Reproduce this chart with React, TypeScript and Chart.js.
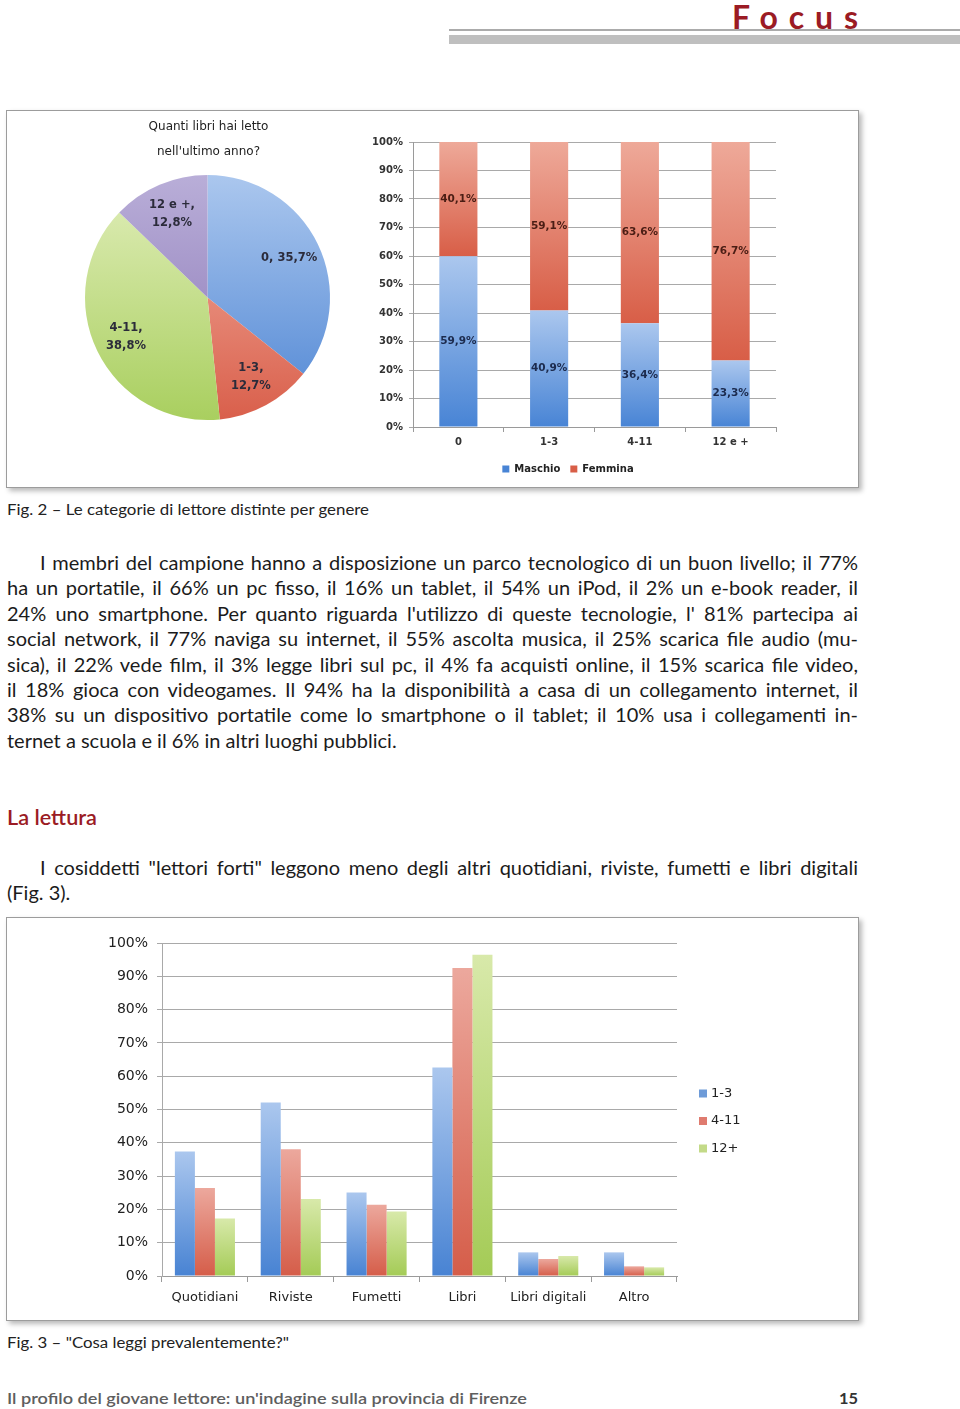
import React, { useEffect, useLayoutEffect, useRef } from 'react';
import { Chart, registerables } from 'chart.js';

Chart.register(...registerables);

// ---------------- DATA ----------------
const pieTitle = ['Quanti libri hai letto', "nell'ultimo anno?"];
const pieCategories = ['0', '1-3', '4-11', '12 e +'];
const pieValues = [35.7, 12.7, 38.8, 12.8];

const genderCategories = ['0', '1-3', '4-11', '12 e +'];
const genderSeries = ['Maschio', 'Femmina'];
const maschioValues = [59.9, 40.9, 36.4, 23.3];
const femminaValues = [40.1, 59.1, 63.6, 76.7];

const readCategories = ['Quotidiani', 'Riviste', 'Fumetti', 'Libri', 'Libri digitali', 'Altro'];
const readSeries = ['1-3', '4-11', '12+'];
const read13 = [37.4, 52.1, 25.1, 62.6, 7.1, 7.1];
const read411 = [26.4, 38.1, 21.4, 92.5, 5.1, 2.9];
const read12 = [17.3, 23.1, 19.4, 96.5, 6.0, 2.6];

const percentMin = 0;
const percentMax = 100;
const percentStep = 10;

const headerText = 'Focus';
const fig2Caption = 'Fig. 2 \u2013 Le categorie di lettore distinte per genere';
const para1 = [
  'I membri del campione hanno a disposizione un parco tecnologico di un buon livello; il 77%',
  'ha un portatile, il 66% un pc fisso, il 16% un tablet, il 54% un iPod, il 2% un e-book reader, il',
  "24% uno smartphone. Per quanto riguarda l'utilizzo di queste tecnologie, l' 81% partecipa ai",
  'social network, il 77% naviga su internet, il 55% ascolta musica, il 25% scarica file audio (mu-',
  'sica), il 22% vede film, il 3% legge libri sul pc, il 4% fa acquisti online, il 15% scarica file video,',
  'il 18% gioca con videogames. Il 94% ha la disponibilit\u00e0 a casa di un collegamento internet, il',
  '38% su un dispositivo portatile come lo smartphone o il tablet; il 10% usa i collegamenti in-',
  'ternet a scuola e il 6% in altri luoghi pubblici.',
];
const sectionTitle = 'La lettura';
const para2 = [
  'I cosiddetti "lettori forti" leggono meno degli altri quotidiani, riviste, fumetti e libri digitali',
  '(Fig. 3).',
];
const fig3Caption = 'Fig. 3 \u2013 "Cosa leggi prevalentemente?"';
const footerText = "Il profilo del giovane lettore: un'indagine sulla provincia di Firenze";
const pageNumber = '15';

// ---------------- STYLE ----------------
const TEXT_FONT = 'Lato, "Noto Sans", sans-serif';
const CHART_FONT = '"DejaVu Sans", Verdana, sans-serif';

const pieGrad = [
  ['#abc7ee', '#4f86d4'],
  ['#f4b3a4', '#d95f4b'],
  ['#e1eebb', '#a9cf5f'],
  ['#b9aed8', '#8a76b6'],
];
const genderGrad = [
  ['#abc7ee', '#4884d5'],
  ['#eea999', '#d85e47'],
];
const genderLabelColors = ['#1c2b4e', '#4a1d14'];
const readGrad = [
  ['#abc7ee', '#4883d3'],
  ['#eca89d', '#d55d49'],
  ['#d8e9aa', '#a4cb56'],
];
const readLegendColors = ['#6e9bd8', '#df7b6f', '#c3da88'];

const fmtPct = (v: number) => v.toFixed(1).replace('.', ',') + '%';

function vGrad(ctx: CanvasRenderingContext2D, top: number, bottom: number, c: string[]) {
  const g = ctx.createLinearGradient(0, top, 0, bottom);
  g.addColorStop(0, c[0]);
  g.addColorStop(1, c[1]);
  return g;
}

function barFill(grads: string[][], si: number, range: (i: number) => [number, number]) {
  return (c: any) => {
    const chart = c.chart;
    const y = chart.scales && chart.scales.y;
    if (!chart.chartArea || !y || c.dataIndex == null) return grads[si][1];
    const [lo, hi] = range(c.dataIndex);
    const top = y.getPixelForValue(hi);
    const bottom = y.getPixelForValue(lo);
    if (!isFinite(top) || !isFinite(bottom) || top === bottom) return grads[si][1];
    return vGrad(chart.ctx, top, bottom, grads[si]);
  };
}

// ---------------- TEXT ----------------
type Mode = 'justify' | 'fit' | 'letters' | 'none';
function Txt(props: {
  x: number; cy: number; w?: number; text: string; size: number; mode?: Mode;
  color?: string; weight?: number; family?: string;
}) {
  const { x, cy, w = 0, text, size, mode = 'none', color = '#1b1b1b', weight = 400, family = TEXT_FONT } = props;
  const ref = useRef<HTMLSpanElement>(null);
  useLayoutEffect(() => {
    const el = ref.current;
    if (!el) return;
    const apply = () => {
      el.style.wordSpacing = '0px';
      el.style.letterSpacing = '0px';
      el.style.transform = 'none';
      const nat = el.getBoundingClientRect().width;
      if (!w || !nat || mode === 'none') return;
      if (mode === 'justify') {
        const n = (text.match(/ /g) || []).length;
        if (nat < w && n > 0) el.style.wordSpacing = `${(w - nat) / n}px`;
        else if (nat > w) el.style.transform = `scaleX(${w / nat})`;
      } else if (mode === 'fit') {
        el.style.transform = `scaleX(${w / nat})`;
      } else if (mode === 'letters') {
        el.style.letterSpacing = `${(w - nat) / (text.length - 1)}px`;
      }
    };
    apply();
    if ((document as any).fonts && (document as any).fonts.ready) (document as any).fonts.ready.then(apply);
  }, [text, w, mode, size]);
  const lh = Math.round(size * 1.2);
  return (
    <span
      ref={ref}
      style={{
        position: 'absolute', left: x, top: cy - lh / 2, fontSize: size, lineHeight: `${lh}px`,
        whiteSpace: 'pre', color, fontWeight: weight, fontFamily: family,
        transformOrigin: '0 50%', display: 'inline-block',
      }}
    >
      {text}
    </span>
  );
}

// ---------------- CHARTS ----------------
function PieChart() {
  const ref = useRef<HTMLCanvasElement>(null);
  useEffect(() => {
    const textPlugin = {
      id: 'pieText',
      afterDatasetsDraw(chart: any) {
        const { ctx, chartArea: a } = chart;
        const meta = chart.getDatasetMeta(0);
        ctx.save();
        ctx.textAlign = 'center';
        ctx.textBaseline = 'middle';
        // title
        const cx = (a.left + a.right) / 2;
        ctx.fillStyle = '#222';
        ctx.font = `12px ${CHART_FONT}`;
        pieTitle.forEach((t, k) => ctx.fillText(t, cx + 1, a.top - 48 + k * 25));
        // slice labels
        ctx.fillStyle = '#2b2b3a';
        ctx.font = `bold 11.5px ${CHART_FONT}`;
        meta.data.forEach((arc: any, i: number) => {
          const p = arc.getProps(['x', 'y', 'startAngle', 'endAngle', 'outerRadius'], true);
          const mid = (p.startAngle + p.endAngle) / 2;
          const r = p.outerRadius * 0.74;
          const px = p.x + Math.cos(mid) * r;
          const py = p.y + Math.sin(mid) * r;
          const pct = fmtPct(pieValues[i]);
          const lines = i === 0 ? [`${pieCategories[i]}, ${pct}`] : [`${pieCategories[i]},`, pct];
          lines.forEach((l, k) => ctx.fillText(l, px, py + (k - (lines.length - 1) / 2) * 18));
        });
        ctx.restore();
      },
    };
    const chart = new Chart(ref.current!, {
      type: 'pie',
      data: {
        labels: pieCategories,
        datasets: [{
          data: pieValues,
          borderWidth: 0,
          backgroundColor: (c: any) => {
            const a = c.chart.chartArea;
            const i = c.dataIndex ?? 0;
            if (!a) return pieGrad[i][1];
            const cy = (a.top + a.bottom) / 2;
            const r = Math.min(a.right - a.left, a.bottom - a.top) / 2;
            return vGrad(c.chart.ctx, cy - r, cy + r, pieGrad[i]);
          },
        }],
      },
      options: {
        animation: false,
        responsive: false,
        layout: { padding: { left: 25, right: 30, top: 63, bottom: 17 } },
        plugins: { legend: { display: false }, tooltip: { enabled: false } },
      },
      plugins: [textPlugin],
    } as any);
    return () => chart.destroy();
  }, []);
  return <canvas ref={ref} width={300} height={325} style={{ position: 'absolute', left: 60, top: 112 }} />;
}

function GenderChart() {
  const ref = useRef<HTMLCanvasElement>(null);
  useEffect(() => {
    const labelPlugin = {
      id: 'stackLabels',
      afterDatasetsDraw(chart: any) {
        const ctx = chart.ctx;
        ctx.save();
        ctx.font = `bold 10.5px ${CHART_FONT}`;
        ctx.textAlign = 'center';
        ctx.textBaseline = 'middle';
        chart.data.datasets.forEach((ds: any, di: number) => {
          const meta = chart.getDatasetMeta(di);
          ctx.fillStyle = genderLabelColors[di];
          meta.data.forEach((el: any, i: number) => {
            const p = el.getProps(['x', 'y', 'base'], true);
            ctx.fillText(fmtPct(ds.data[i]), p.x, (p.y + p.base) / 2);
          });
        });
        ctx.restore();
      },
    };
    const tickFont = { family: CHART_FONT, size: 10, weight: 'bold' };
    const chart = new Chart(ref.current!, {
      type: 'bar',
      data: {
        labels: genderCategories,
        datasets: [
          {
            label: genderSeries[0], data: maschioValues, backgroundColor: barFill(genderGrad, 0, (i) => [0, maschioValues[i]]),
            categoryPercentage: 0.42, barPercentage: 1,
          },
          {
            label: genderSeries[1], data: femminaValues, backgroundColor: barFill(genderGrad, 1, (i) => [maschioValues[i], maschioValues[i] + femminaValues[i]]),
            categoryPercentage: 0.42, barPercentage: 1,
          },
        ],
      },
      options: {
        animation: false,
        responsive: false,
        layout: { padding: { top: 14, right: 18, left: 0, bottom: 0 } },
        plugins: {
          tooltip: { enabled: false },
          legend: {
            position: 'bottom',
            labels: { boxWidth: 7, boxHeight: 7, padding: 10, color: '#222', font: tickFont },
          },
        },
        scales: {
          x: {
            stacked: true,
            grid: { drawOnChartArea: false, drawTicks: true, tickLength: 5, color: '#9a9a9a' },
            border: { display: true, color: '#9a9a9a' },
            ticks: { color: '#333', font: tickFont, padding: 4 },
            afterFit: (s: any) => { s.height = 27; },
          },
          y: {
            stacked: true,
            min: percentMin,
            max: percentMax,
            ticks: { stepSize: percentStep, callback: (v: any) => v + '%', color: '#333', font: tickFont, padding: 6 },
            grid: { color: '#a9a9a9', tickLength: 4 },
            border: { display: true, color: '#9a9a9a' },
            afterFit: (s: any) => { s.width = 53; },
          },
        },
      },
      plugins: [labelPlugin],
    } as any);
    return () => chart.destroy();
  }, []);
  return <canvas ref={ref} width={434} height={356} style={{ position: 'absolute', left: 360, top: 128 }} />;
}

function ReadChart() {
  const ref = useRef<HTMLCanvasElement>(null);
  useEffect(() => {
    const legendPlugin = {
      id: 'sideLegend',
      afterDraw(chart: any) {
        const { ctx, chartArea: a } = chart;
        ctx.save();
        ctx.font = `13px ${CHART_FONT}`;
        ctx.textAlign = 'left';
        ctx.textBaseline = 'middle';
        const n = chart.data.datasets.length;
        chart.data.datasets.forEach((ds: any, i: number) => {
          const y = chart.height / 2 + (i - (n - 1) / 2) * 27.5;
          const x = a.right + 22;
          ctx.fillStyle = readLegendColors[i];
          ctx.fillRect(x, y - 4, 8, 8);
          ctx.fillStyle = '#222';
          ctx.fillText(ds.label, x + 12, y);
        });
        ctx.restore();
      },
    };
    const series = [read13, read411, read12];
    const chart = new Chart(ref.current!, {
      type: 'bar',
      data: {
        labels: readCategories,
        datasets: series.map((d, si) => ({
          label: readSeries[si],
          data: d,
          backgroundColor: barFill(readGrad, si, (i) => [0, d[i]]),
          categoryPercentage: 0.7,
          barPercentage: 1,
        })),
      },
      options: {
        animation: false,
        responsive: false,
        layout: { padding: { top: 18, right: 118, left: 0, bottom: 0 } },
        plugins: { tooltip: { enabled: false }, legend: { display: false } },
        scales: {
          x: {
            grid: { drawOnChartArea: false, drawTicks: true, tickLength: 6, color: '#9a9a9a' },
            border: { display: true, color: '#9a9a9a' },
            ticks: { color: '#222', font: { family: CHART_FONT, size: 13 }, padding: 8 },
            afterFit: (s: any) => { s.height = 41; },
          },
          y: {
            min: percentMin,
            max: percentMax,
            ticks: { stepSize: percentStep, callback: (v: any) => v + '%', color: '#222', font: { family: CHART_FONT, size: 14 }, padding: 9 },
            grid: { color: '#a9a9a9', tickLength: 5 },
            border: { display: true, color: '#a9a9a9' },
            afterFit: (s: any) => { s.width = 67; },
          },
        },
      },
      plugins: [legendPlugin],
    } as any);
    return () => chart.destroy();
  }, []);
  return <canvas ref={ref} width={700} height={392} style={{ position: 'absolute', left: 95, top: 925 }} />;
}

// ---------------- PAGE ----------------
const frameStyle = (top: number, height: number): React.CSSProperties => ({
  position: 'absolute', left: 6, top, width: 853, height, boxSizing: 'border-box',
  border: '1px solid #9c9c9c', background: '#fff', boxShadow: '3px 3px 5px rgba(0,0,0,0.28)',
});

export default function App() {
  return (
    <div style={{ position: 'absolute', left: 0, top: 0, width: 960, height: 1409, background: '#fff', overflow: 'hidden' }}>
      {/* header */}
      <Txt x={732} cy={17} w={126} text={headerText} size={32} weight={700} color="#9b1b24" mode="letters" />
      <div style={{ position: 'absolute', left: 449, top: 29, width: 511, height: 2, background: '#ababab' }} />
      <div style={{ position: 'absolute', left: 449, top: 35, width: 511, height: 9, background: '#bfbfbf' }} />

      {/* figure 2 */}
      <div style={frameStyle(110, 378)} />
      <PieChart />
      <GenderChart />
      <Txt x={7} cy={509} w={362} text={fig2Caption} size={15.5} mode="fit" color="#222" />

      {/* paragraph 1 */}
      {para1.map((t, i) => (
        <Txt key={i} x={i === 0 ? 40 : 7} cy={562 + i * 25.4} w={i === 0 ? 818 : 851} text={t} size={20}
          mode={i === para1.length - 1 ? 'none' : 'justify'} />
      ))}

      <Txt x={7} cy={816} w={90} text={sectionTitle} size={21} weight={600} color="#9b1b24" mode="fit" />

      {para2.map((t, i) => (
        <Txt key={i} x={i === 0 ? 40 : 7} cy={867 + i * 25} w={818} text={t} size={20}
          mode={i === para2.length - 1 ? 'none' : 'justify'} />
      ))}

      {/* figure 3 */}
      <div style={frameStyle(917, 404)} />
      <ReadChart />
      <Txt x={7} cy={1342} w={282} text={fig3Caption} size={15.5} mode="fit" color="#222" />

      {/* footer */}
      <Txt x={7} cy={1397} w={520} text={footerText} size={16} weight={600} color="#5e5e5e" mode="fit" />
      <Txt x={839} cy={1397} w={19} text={pageNumber} size={16} weight={700} color="#333" mode="fit" />
    </div>
  );
}
